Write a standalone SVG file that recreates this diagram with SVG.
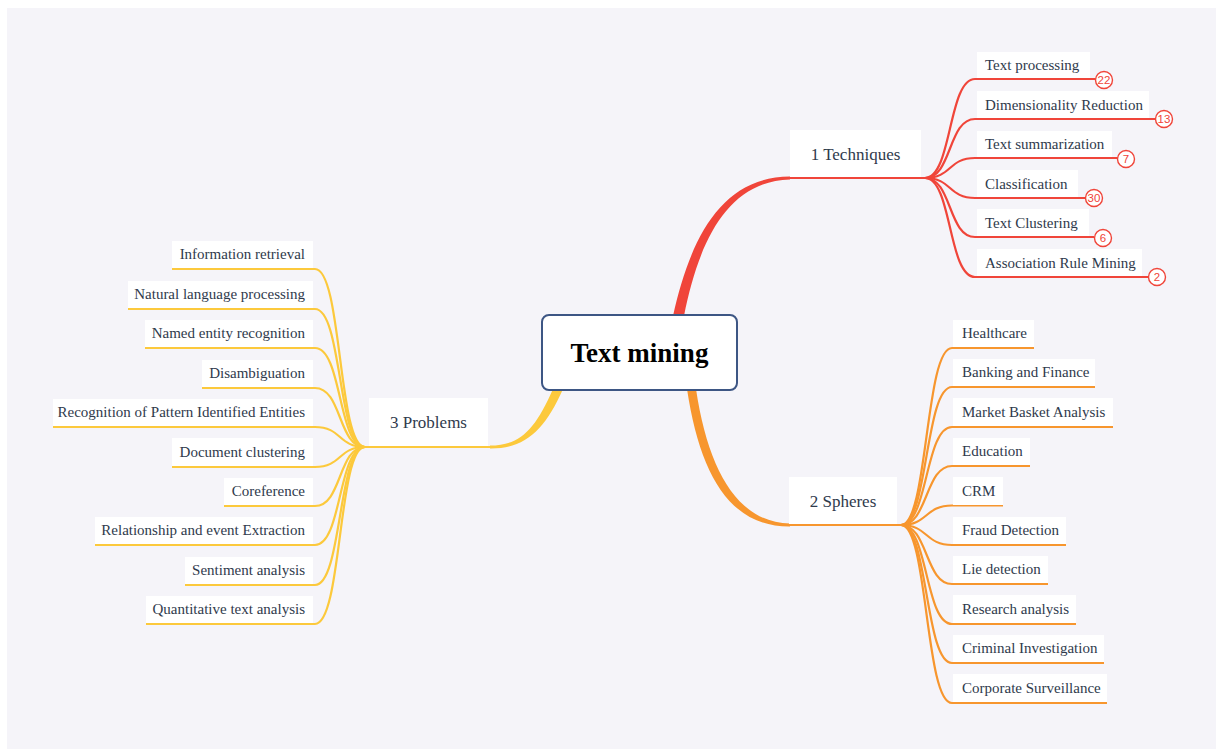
<svg xmlns="http://www.w3.org/2000/svg" width="1216" height="749" viewBox="0 0 1216 749">
<style>
.lbl{font-family:"Liberation Serif","Times New Roman",serif;font-size:15px;fill:#2f3a4c}
.br{font-family:"Liberation Serif","Times New Roman",serif;font-size:17px;fill:#2f3a4c}
.box{fill:#ffffff}
.red{stroke:#f0453a;fill:none;stroke-width:2.2}
.org{stroke:#f7962e;fill:none;stroke-width:2.2}
.yel{stroke:#fcc93c;fill:none;stroke-width:2.2}
.badge circle{fill:#ffffff;stroke:#f0453a;stroke-width:1.4}
.badge text{font-family:"Liberation Sans",Arial,sans-serif;font-size:11.5px;fill:#f0453a;text-anchor:middle}
</style>
<rect x="0" y="0" width="1216" height="749" fill="#ffffff"/>
<rect x="7" y="8" width="1209" height="741" fill="#f5f4f9"/>

<g id="connectors">
  <!-- main branches -->
  <path d="M673,316 C690,240 720,177 790,176.5 L790,179.5 C726,181 698,245 684,316 Z" fill="#f0453a"/>
  <path d="M687,389 C700,475 730,527 790,526.5 L790,523.5 C738,523 708,470 696,389 Z" fill="#f7962e"/>
  <path d="M553,389 C535,430 520,445.5 490,445.5 L490,448.5 C525,449 545,430 563,389 Z" fill="#fcc93c"/>
  <!-- branch underlines -->
  <path class="red" d="M789,178 H927"/>
  <path class="org" d="M789,525 H903"/>
  <path class="yel" d="M490,447 H363"/>
  <!-- technique children -->
  <path class="red" d="M925,178 C952,178 948,79 975,79 H1096"/>
  <path class="red" d="M925,178 C952,178 948,119 975,119 H1156"/>
  <path class="red" d="M925,178 C952,178 948,158 975,158 H1118"/>
  <path class="red" d="M925,178 C952,178 948,198 975,198 H1086"/>
  <path class="red" d="M925,178 C952,178 948,237 975,237 H1094"/>
  <path class="red" d="M925,178 C952,178 948,277 975,277 H1149"/>
  <!-- sphere children -->
  <path class="org" d="M901,525 C928,525 925,348 952,348 H1034"/>
  <path class="org" d="M901,525 C928,525 925,387 952,387 H1095"/>
  <path class="org" d="M901,525 C928,525 925,427 952,427 H1113"/>
  <path class="org" d="M901,525 C928,525 925,466 952,466 H1030"/>
  <path class="org" d="M901,525 C928,525 925,505.5 952,505.5 H1003"/>
  <path class="org" d="M901,525 C928,525 925,545 952,545 H1066"/>
  <path class="org" d="M901,525 C928,525 925,584 952,584 H1048"/>
  <path class="org" d="M901,525 C928,525 925,624 952,624 H1076"/>
  <path class="org" d="M901,525 C928,525 925,663 952,663 H1104"/>
  <path class="org" d="M901,525 C928,525 925,703 952,703 H1107"/>
  <!-- problem children -->
  <path class="yel" d="M365,447 C338,447 342,269 315,269 H172"/>
  <path class="yel" d="M365,447 C338,447 342,309 315,309 H128"/>
  <path class="yel" d="M365,447 C338,447 342,348 315,348 H145"/>
  <path class="yel" d="M365,447 C338,447 342,388 315,388 H202"/>
  <path class="yel" d="M365,447 C338,447 342,427 315,427 H53"/>
  <path class="yel" d="M365,447 C338,447 342,467 315,467 H172"/>
  <path class="yel" d="M365,447 C338,447 342,506 315,506 H224"/>
  <path class="yel" d="M365,447 C338,447 342,545 315,545 H95"/>
  <path class="yel" d="M365,447 C338,447 342,585 315,585 H185"/>
  <path class="yel" d="M365,447 C338,447 342,624 315,624 H146"/>
</g>

<g id="root">
  <rect x="542" y="315" width="195" height="75" rx="7" fill="#ffffff" stroke="#3d5684" stroke-width="2"/>
  <text x="639.5" y="362" text-anchor="middle" font-family="'Liberation Serif','Times New Roman',serif" font-size="27" font-weight="bold" fill="#000000">Text mining</text>
</g>

<g id="techniques">
  <rect class="box" x="790" y="130" width="131" height="47"/>
  <text class="br" x="855.5" y="160" text-anchor="middle">1 Techniques</text>
</g>
<g id="spheres">
  <rect class="box" x="789" y="477" width="108" height="47"/>
  <text class="br" x="843" y="507" text-anchor="middle">2 Spheres</text>
</g>
<g id="problems">
  <rect class="box" x="369" y="398" width="119" height="48"/>
  <text class="br" x="428.5" y="428" text-anchor="middle">3 Problems</text>
</g>

<!-- technique children -->
<g id="t1"><rect class="box" x="977" y="52" width="113" height="26"/><text class="lbl" x="985" y="70">Text processing</text>
  <g class="badge"><circle cx="1104" cy="80" r="8.5"/><text x="1104" y="84">22</text></g></g>
<g id="t2"><rect class="box" x="977" y="91" width="172" height="27"/><text class="lbl" x="985" y="110">Dimensionality Reduction</text>
  <g class="badge"><circle cx="1164" cy="119" r="8.5"/><text x="1164" y="123">13</text></g></g>
<g id="t3"><rect class="box" x="977" y="131" width="135" height="26"/><text class="lbl" x="985" y="149">Text summarization</text>
  <g class="badge"><circle cx="1126" cy="159" r="8.5"/><text x="1126" y="163">7</text></g></g>
<g id="t4"><rect class="box" x="977" y="170" width="101" height="27"/><text class="lbl" x="985" y="189">Classification</text>
  <g class="badge"><circle cx="1094" cy="198" r="8.5"/><text x="1094" y="202">30</text></g></g>
<g id="t5"><rect class="box" x="977" y="209" width="112" height="27"/><text class="lbl" x="985" y="228">Text Clustering</text>
  <g class="badge"><circle cx="1103" cy="238" r="8.5"/><text x="1103" y="242">6</text></g></g>
<g id="t6"><rect class="box" x="977" y="249" width="165" height="27"/><text class="lbl" x="985" y="268">Association Rule Mining</text>
  <g class="badge"><circle cx="1157" cy="277" r="8.5"/><text x="1157" y="281">2</text></g></g>

<!-- sphere children -->
<g id="s1"><rect class="box" x="953" y="320" width="81" height="27"/><text class="lbl" x="962" y="338">Healthcare</text></g>
<g id="s2"><rect class="box" x="953" y="359" width="142" height="27"/><text class="lbl" x="962" y="377">Banking and Finance</text></g>
<g id="s3"><rect class="box" x="953" y="398" width="160" height="28"/><text class="lbl" x="962" y="417">Market Basket Analysis</text></g>
<g id="s4"><rect class="box" x="953" y="438" width="77" height="27"/><text class="lbl" x="962" y="456">Education</text></g>
<g id="s5"><rect class="box" x="953" y="477" width="50" height="28"/><text class="lbl" x="962" y="496">CRM</text></g>
<g id="s6"><rect class="box" x="953" y="517" width="113" height="27"/><text class="lbl" x="962" y="535">Fraud Detection</text></g>
<g id="s7"><rect class="box" x="953" y="556" width="95" height="27"/><text class="lbl" x="962" y="574">Lie detection</text></g>
<g id="s8"><rect class="box" x="953" y="595" width="123" height="28"/><text class="lbl" x="962" y="614">Research analysis</text></g>
<g id="s9"><rect class="box" x="953" y="635" width="151" height="27"/><text class="lbl" x="962" y="653">Criminal Investigation</text></g>
<g id="s10"><rect class="box" x="953" y="674" width="154" height="28"/><text class="lbl" x="962" y="693">Corporate Surveillance</text></g>

<!-- problem children -->
<g id="p1"><rect class="box" x="172" y="241" width="141" height="27"/><text class="lbl" x="305" y="259" text-anchor="end">Information retrieval</text></g>
<g id="p2"><rect class="box" x="128" y="281" width="185" height="27"/><text class="lbl" x="305" y="299" text-anchor="end">Natural language processing</text></g>
<g id="p3"><rect class="box" x="145" y="320" width="168" height="27"/><text class="lbl" x="305" y="338" text-anchor="end">Named entity recognition</text></g>
<g id="p4"><rect class="box" x="202" y="360" width="111" height="27"/><text class="lbl" x="305" y="378" text-anchor="end">Disambiguation</text></g>
<g id="p5"><rect class="box" x="53" y="399" width="260" height="27"/><text class="lbl" x="305" y="417" text-anchor="end">Recognition of Pattern Identified Entities</text></g>
<g id="p6"><rect class="box" x="172" y="438" width="141" height="28"/><text class="lbl" x="305" y="457" text-anchor="end">Document clustering</text></g>
<g id="p7"><rect class="box" x="224" y="478" width="89" height="27"/><text class="lbl" x="305" y="496" text-anchor="end">Coreference</text></g>
<g id="p8"><rect class="box" x="95" y="517" width="218" height="27"/><text class="lbl" x="305" y="535" text-anchor="end">Relationship and event Extraction</text></g>
<g id="p9"><rect class="box" x="185" y="557" width="128" height="27"/><text class="lbl" x="305" y="575" text-anchor="end">Sentiment analysis</text></g>
<g id="p10"><rect class="box" x="146" y="596" width="167" height="27"/><text class="lbl" x="305" y="614" text-anchor="end">Quantitative text analysis</text></g>
</svg>
